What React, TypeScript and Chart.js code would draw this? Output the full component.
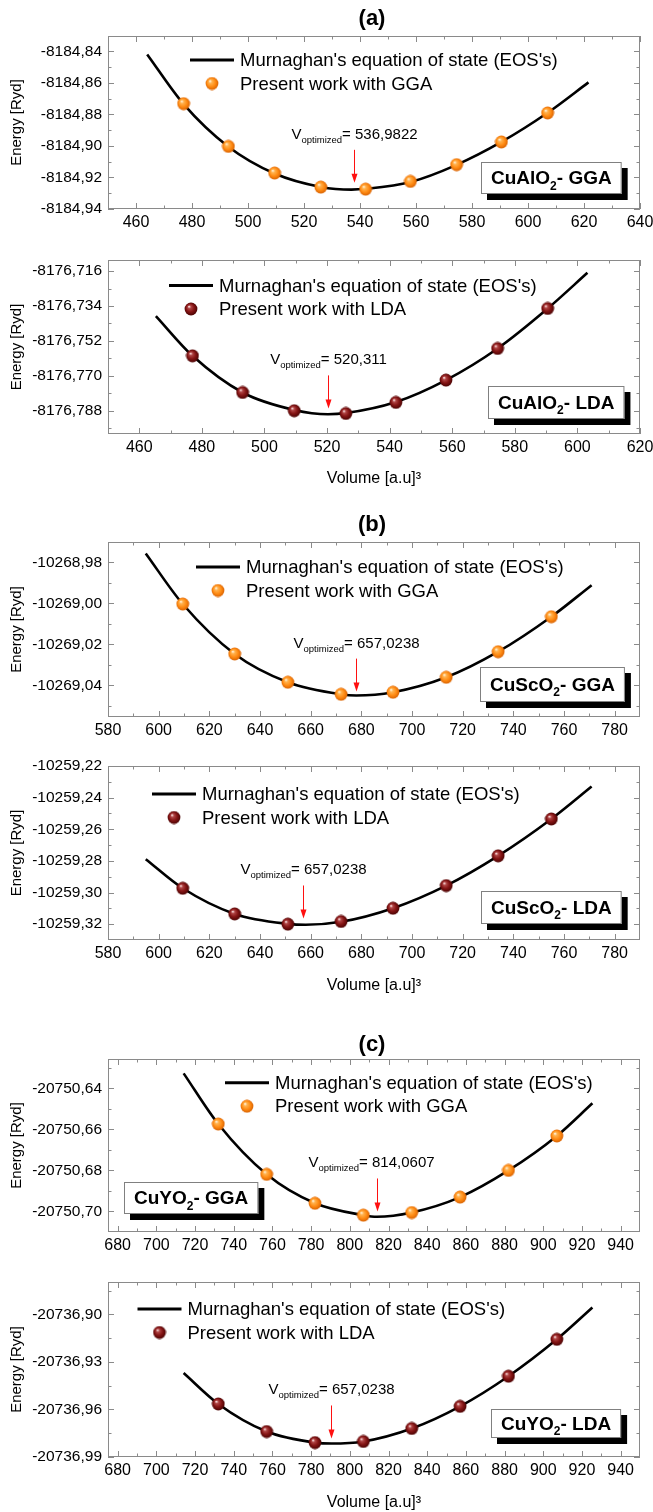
import React, { useEffect, useRef } from 'react';
import { Chart, registerables } from 'chart.js';

Chart.register(...registerables);

const FONT = '"Liberation Sans", Arial, Helvetica, sans-serif';

// ---------- data: CuAlO2 ----------
const volCuAlO2GGA = [477, 493, 509.5, 526, 542, 558, 574.5, 590.5, 607];
const eCuAlO2GGA = [-8184.8732, -8184.9003, -8184.9172, -8184.9261, -8184.9274, -8184.9225, -8184.9119, -8184.8975, -8184.8791];
const fitVolCuAlO2GGA = [464, 477, 493, 509.5, 526, 537, 542, 558, 574.5, 590.5, 607, 621.6];
const fitECuAlO2GGA = [-8184.842, -8184.8735, -8184.9005, -8184.9175, -8184.926, -8184.9277, -8184.9272, -8184.9229, -8184.912, -8184.8975, -8184.879, -8184.8597];

const volCuAlO2LDA = [477, 493, 509.5, 526, 542, 558, 574.5, 590.5];
const eCuAlO2LDA = [-8176.7597, -8176.7786, -8176.788, -8176.7894, -8176.7837, -8176.7722, -8176.7559, -8176.7353];
const fitVolCuAlO2LDA = [465.3, 477, 493, 509.5, 520.3, 526, 542, 558, 574.5, 590.5, 603.2];
const fitECuAlO2LDA = [-8176.7392, -8176.7597, -8176.7786, -8176.7876, -8176.7898, -8176.7892, -8176.7835, -8176.7722, -8176.7559, -8176.7353, -8176.7169];

// ---------- data: CuScO2 ----------
const volCuScO2 = [609.5, 630, 651, 672, 692.5, 713.5, 734, 755];
const eCuScO2GGA = [-10269.0003, -10269.0247, -10269.0385, -10269.0444, -10269.0434, -10269.0361, -10269.0236, -10269.0065];
const fitVolCuScO2GGA = [594.9, 609.5, 630, 651, 672, 678, 692.5, 713.5, 734, 755, 770.9];
const fitECuScO2GGA = [-10268.9756, -10269.0003, -10269.0247, -10269.0385, -10269.0444, -10269.045, -10269.0434, -10269.0361, -10269.0236, -10269.0065, -10268.9911];

const eCuScO2LDA = [-10259.2973, -10259.3135, -10259.32, -10259.3183, -10259.3099, -10259.2956, -10259.2768, -10259.2535];
const fitVolCuScO2LDA = [594.9, 609.5, 630, 651, 658, 672, 692.5, 713.5, 734, 755, 770.9];
const fitECuScO2LDA = [-10259.2789, -10259.2973, -10259.3135, -10259.3198, -10259.3204, -10259.3185, -10259.3099, -10259.2956, -10259.2768, -10259.2535, -10259.233];

// ---------- data: CuYO2 ----------
const volCuYO2 = [732, 757, 782, 807, 832, 857, 882, 907];
const eCuYO2GGA = [-20750.6574, -20750.6819, -20750.696, -20750.7018, -20750.7005, -20750.693, -20750.68, -20750.6632];
const fitVolCuYO2GGA = [714.1, 732, 757, 782, 807, 814, 832, 857, 882, 907, 925.4];
const fitECuYO2GGA = [-20750.6327, -20750.6574, -20750.6819, -20750.696, -20750.7018, -20750.7026, -20750.7005, -20750.693, -20750.68, -20750.6632, -20750.6473];

const eCuYO2LDA = [-20736.9565, -20736.9739, -20736.9809, -20736.9802, -20736.972, -20736.958, -20736.939, -20736.9157];
const fitVolCuYO2LDA = [714.1, 732, 757, 782, 790.5, 807, 832, 857, 882, 907, 925.4];
const fitECuYO2LDA = [-20736.937, -20736.9565, -20736.9739, -20736.9809, -20736.9815, -20736.9802, -20736.972, -20736.958, -20736.939, -20736.9157, -20736.8956];

// ---------- tick values ----------
const xTicksCuAlO2GGA = [460, 480, 500, 520, 540, 560, 580, 600, 620, 640];
const xTicksCuAlO2LDA = [460, 480, 500, 520, 540, 560, 580, 600, 620];
const xTicksCuScO2 = [580, 600, 620, 640, 660, 680, 700, 720, 740, 760, 780];
const xTicksCuYO2 = [680, 700, 720, 740, 760, 780, 800, 820, 840, 860, 880, 900, 920, 940];
const yTicksCuAlO2GGA = [-8184.94, -8184.92, -8184.9, -8184.88, -8184.86, -8184.84];
const yTicksCuAlO2LDA = [-8176.788, -8176.77, -8176.752, -8176.734, -8176.716];
const yTicksCuScO2GGA = [-10269.04, -10269.02, -10269.0, -10268.98];
const yTicksCuScO2LDA = [-10259.32, -10259.3, -10259.28, -10259.26, -10259.24, -10259.22];
const yTicksCuYO2GGA = [-20750.7, -20750.68, -20750.66, -20750.64];
const yTicksCuYO2LDA = [-20736.99, -20736.96, -20736.93, -20736.9];

// ---------- annotations ----------
const vOptLabels = ['= 536,9822', '= 520,311', '= 657,0238', '= 657,0238', '= 814,0607', '= 657,0238'];
const arrowX = [538, 520.4, 677.7, 657.1, 813.8, 790.5];
const arrowTipE = [-8184.9234, -8176.7868, -10269.0431, -10259.3164, -20750.7, -20736.9783];

const LEGEND_LINE = "Murnaghan's equation of state (EOS's)";

type PanelCfg = {
  top: number; h: number; areaTop: number; xAxisH: number;
  title?: string; titleY?: number;
  xTitle?: boolean; xTitlePad?: number;
  vol: number[]; e: number[]; fitVol: number[]; fitE: number[];
  xMin: number; xMax: number; yMin: number; yMax: number;
  xTicks: number[]; yTicks: number[]; yDec: number;
  kind: 'GGA' | 'LDA';
  legend: { x: number; y: number };
  idx: number; textDx: number;
  box: { x: number; y: number; h: number; a: string; sub: string; b: string };
};

const panels: PanelCfg[] = [
  {
    top: 0, h: 240, areaTop: 36, xAxisH: 31, title: '(a)', titleY: 19,
    vol: volCuAlO2GGA, e: eCuAlO2GGA, fitVol: fitVolCuAlO2GGA, fitE: fitECuAlO2GGA,
    xMin: 450, xMax: 640, yMin: -8184.94, yMax: -8184.8303,
    xTicks: xTicksCuAlO2GGA, yTicks: yTicksCuAlO2GGA, yDec: 2, kind: 'GGA',
    legend: { x: 82, y: 24 }, idx: 0, textDx: 0,
    box: { x: 373, y: 126, h: 32, a: 'CuAlO', sub: '2', b: '- GGA' },
  },
  {
    top: 240, h: 260, areaTop: 20, xAxisH: 66, xTitle: true, xTitlePad: 12,
    vol: volCuAlO2LDA, e: eCuAlO2LDA, fitVol: fitVolCuAlO2LDA, fitE: fitECuAlO2LDA,
    xMin: 450, xMax: 620, yMin: -8176.8, yMax: -8176.7103,
    xTicks: xTicksCuAlO2LDA, yTicks: yTicksCuAlO2LDA, yDec: 3, kind: 'LDA',
    legend: { x: 61, y: 25.5 }, idx: 1, textDx: 0,
    box: { x: 380, y: 126, h: 33, a: 'CuAlO', sub: '2', b: '- LDA' },
  },
  {
    top: 500, h: 250, areaTop: 42, xAxisH: 33, title: '(b)', titleY: 25,
    vol: volCuScO2, e: eCuScO2GGA, fitVol: fitVolCuScO2GGA, fitE: fitECuScO2GGA,
    xMin: 580, xMax: 790, yMin: -10269.0555, yMax: -10268.97,
    xTicks: xTicksCuScO2, yTicks: yTicksCuScO2GGA, yDec: 2, kind: 'GGA',
    legend: { x: 88, y: 25 }, idx: 2, textDx: 0,
    box: { x: 372, y: 125, h: 35, a: 'CuScO', sub: '2', b: '- GGA' },
  },
  {
    top: 750, h: 260, areaTop: 16, xAxisH: 70, xTitle: true, xTitlePad: 15,
    vol: volCuScO2, e: eCuScO2LDA, fitVol: fitVolCuScO2LDA, fitE: fitECuScO2LDA,
    xMin: 580, xMax: 790, yMin: -10259.33, yMax: -10259.22,
    xTicks: xTicksCuScO2, yTicks: yTicksCuScO2LDA, yDec: 2, kind: 'LDA',
    legend: { x: 44, y: 28 }, idx: 3, textDx: 0,
    box: { x: 373, y: 125, h: 33, a: 'CuScO', sub: '2', b: '- LDA' },
  },
  {
    top: 1010, h: 255, areaTop: 49, xAxisH: 33, title: '(c)', titleY: 35,
    vol: volCuYO2, e: eCuYO2GGA, fitVol: fitVolCuYO2GGA, fitE: fitECuYO2GGA,
    xMin: 675, xMax: 950, yMin: -20750.71, yMax: -20750.6257,
    xTicks: xTicksCuYO2, yTicks: yTicksCuYO2GGA, yDec: 2, kind: 'GGA',
    legend: { x: 117, y: 23.7 }, idx: 4, textDx: -6,
    box: { x: 16, y: 123, h: 32, a: 'CuYO', sub: '2', b: '- GGA' },
  },
  {
    top: 1265, h: 247, areaTop: 17, xAxisH: 55, xTitle: true, xTitlePad: 0,
    vol: volCuYO2, e: eCuYO2LDA, fitVol: fitVolCuYO2LDA, fitE: fitECuYO2LDA,
    xMin: 675, xMax: 950, yMin: -20736.99, yMax: -20736.8795,
    xTicks: xTicksCuYO2, yTicks: yTicksCuYO2LDA, yDec: 2, kind: 'LDA',
    legend: { x: 29.5, y: 27 }, idx: 5, textDx: 0,
    box: { x: 383, y: 127, h: 29, a: 'CuYO', sub: '2', b: '- LDA' },
  },
];

function makeSphere(kind: 'GGA' | 'LDA'): HTMLCanvasElement {
  const c = document.createElement('canvas');
  c.width = 14; c.height = 14;
  const g = c.getContext('2d')!;
  const grad = g.createRadialGradient(5, 4.5, 0.3, 7, 7, 7);
  if (kind === 'GGA') {
    grad.addColorStop(0, '#fff3dc');
    grad.addColorStop(0.22, '#ffb24e');
    grad.addColorStop(0.6, '#ff8a12');
    grad.addColorStop(1, '#d25c00');
  } else {
    grad.addColorStop(0, '#ffe6e6');
    grad.addColorStop(0.2, '#b04646');
    grad.addColorStop(0.55, '#861515');
    grad.addColorStop(1, '#420000');
  }
  g.fillStyle = grad;
  g.beginPath();
  g.arc(7, 7, 6.4, 0, Math.PI * 2);
  g.fill();
  return c;
}

function Panel({ cfg }: { cfg: PanelCfg }) {
  const ref = useRef<HTMLCanvasElement | null>(null);
  useEffect(() => {
    const canvas = ref.current!;
    const sphere = makeSphere(cfg.kind);
    const GRAY = '#8a8a8a';

    const deco = {
      id: 'deco',
      beforeDatasetsDraw(chart: any) {
        const { ctx, chartArea: a, scales } = chart;
        const x = scales.x, y = scales.y;
        ctx.save();
        ctx.strokeStyle = GRAY;
        ctx.lineWidth = 1;
        ctx.strokeRect(a.left + 0.5, a.top + 0.5, a.right - a.left - 1, a.bottom - a.top - 1);
        const drawX = (v: number, len: number) => {
          const px = Math.round(x.getPixelForValue(v)) + 0.5;
          ctx.beginPath();
          ctx.moveTo(px, a.bottom); ctx.lineTo(px, a.bottom - len);
          ctx.moveTo(px, a.top); ctx.lineTo(px, a.top + len);
          ctx.stroke();
        };
        const drawY = (v: number, len: number) => {
          const py = Math.round(y.getPixelForValue(v)) + 0.5;
          ctx.beginPath();
          ctx.moveTo(a.left, py); ctx.lineTo(a.left + len, py);
          ctx.moveTo(a.right, py); ctx.lineTo(a.right - len, py);
          ctx.stroke();
        };
        const xt: number[] = x.ticks.map((t: any) => t.value);
        const yt: number[] = y.ticks.map((t: any) => t.value);
        const xs = xt[1] - xt[0], ys = yt[1] - yt[0];
        xt.forEach((v) => drawX(v, 6));
        yt.forEach((v) => drawY(v, 6));
        const eps = 1e-9;
        for (let v = xt[0] - xs / 2; v < x.max + eps; v += xs) if (v > x.min + eps && v < x.max - eps) drawX(v, 3.5);
        for (let v = yt[0] - ys / 2; v < y.max + 1e-7; v += ys) if (v > y.min + 1e-7 && v < y.max - 1e-7) drawY(v, 3.5);
        ctx.restore();
      },
      afterDatasetsDraw(chart: any) {
        const { ctx, chartArea: a, scales } = chart;
        const x = scales.x, y = scales.y;
        ctx.save();
        // panel title
        if (cfg.title) {
          ctx.font = `bold 22px ${FONT}`;
          ctx.fillStyle = '#000';
          ctx.textAlign = 'center';
          ctx.textBaseline = 'middle';
          ctx.fillText(cfg.title, 372, cfg.titleY);
        }
        // legend
        const lx = a.left + cfg.legend.x, ly = a.top + cfg.legend.y;
        ctx.strokeStyle = '#000';
        ctx.lineWidth = 3;
        ctx.beginPath();
        ctx.moveTo(lx, ly); ctx.lineTo(lx + 44, ly);
        ctx.stroke();
        ctx.drawImage(sphere, lx + 22 - 7, ly + 23.5 - 7);
        ctx.font = `18.5px ${FONT}`;
        ctx.fillStyle = '#000';
        ctx.textAlign = 'left';
        ctx.textBaseline = 'middle';
        ctx.fillText(LEGEND_LINE, lx + 50, ly + 1);
        ctx.fillText('Present work with ' + cfg.kind, lx + 50, ly + 24.5);

        // arrow + V optimized
        const ax = Math.round(x.getPixelForValue(arrowX[cfg.idx])) + 0.5;
        const tip = y.getPixelForValue(arrowTipE[cfg.idx]);
        const atop = tip - 33;
        ctx.strokeStyle = '#ff1010';
        ctx.fillStyle = '#ff1010';
        ctx.lineWidth = 1;
        ctx.beginPath();
        ctx.moveTo(ax, atop); ctx.lineTo(ax, tip - 6);
        ctx.stroke();
        ctx.beginPath();
        ctx.moveTo(ax, tip); ctx.lineTo(ax - 3, tip - 9); ctx.lineTo(ax + 3, tip - 9); ctx.closePath();
        ctx.fill();

        const f1 = `15px ${FONT}`, f2 = `9.5px ${FONT}`;
        const label = vOptLabels[cfg.idx];
        ctx.font = f1;
        const wV = ctx.measureText('V').width;
        const wL = ctx.measureText(label).width;
        ctx.font = f2;
        const wS = ctx.measureText('optimized').width;
        const x0 = ax + cfg.textDx - (wV + wS + wL) / 2;
        const base = atop - 11;
        ctx.fillStyle = '#000';
        ctx.textAlign = 'left';
        ctx.textBaseline = 'alphabetic';
        ctx.font = f1; ctx.fillText('V', x0, base);
        ctx.font = f2; ctx.fillText('optimized', x0 + wV, base + 4);
        ctx.font = f1; ctx.fillText(label, x0 + wV + wS, base);

        // label box
        const b = cfg.box;
        const fb = `bold 19px ${FONT}`, fs = `bold 12px ${FONT}`;
        ctx.font = fb;
        const w1 = ctx.measureText(b.a).width;
        const w3 = ctx.measureText(b.b).width;
        ctx.font = fs;
        const w2 = ctx.measureText(b.sub).width;
        const bw = w1 + w2 + w3 + 20;
        const bx = a.left + b.x, by = a.top + b.y;
        ctx.fillStyle = '#000';
        ctx.fillRect(bx + 6, by + 6, bw, b.h);
        ctx.fillStyle = '#fff';
        ctx.fillRect(bx, by, bw, b.h);
        ctx.strokeStyle = '#808080';
        ctx.lineWidth = 1;
        ctx.strokeRect(bx + 0.5, by + 0.5, bw - 1, b.h - 1);
        const tb = by + b.h / 2 + 6;
        ctx.fillStyle = '#000';
        ctx.font = fb; ctx.fillText(b.a, bx + 10, tb);
        ctx.font = fs; ctx.fillText(b.sub, bx + 10 + w1, tb + 5.5);
        ctx.font = fb; ctx.fillText(b.b, bx + 10 + w1 + w2, tb);
        ctx.restore();
      },
    };

    const chart = new Chart(canvas, {
      type: 'line',
      data: {
        datasets: [
          {
            data: cfg.vol.map((v, i) => ({ x: v, y: cfg.e[i] })),
            showLine: false,
            pointStyle: sphere as any,
            pointRadius: 6,
            pointHoverRadius: 6,
            order: 1,
          },
          {
            data: cfg.fitVol.map((v, i) => ({ x: v, y: cfg.fitE[i] })),
            borderColor: '#000',
            borderWidth: 2.6,
            pointRadius: 0,
            cubicInterpolationMode: 'monotone',
            fill: false,
            order: 2,
          },
        ],
      },
      options: {
        animation: false,
        responsive: false,
        maintainAspectRatio: false,
        events: [],
        layout: { padding: { top: cfg.areaTop, right: 13, bottom: 0, left: 0 } },
        plugins: { legend: { display: false }, tooltip: { enabled: false }, title: { display: false } },
        scales: {
          x: {
            type: 'linear',
            min: cfg.xMin,
            max: cfg.xMax,
            grid: { display: false, drawTicks: false },
            border: { display: false },
            afterBuildTicks: (s: any) => { s.ticks = cfg.xTicks.map((v) => ({ value: v })); },
            afterFit: (s: any) => { s.height = cfg.xAxisH; s.paddingLeft = 0; s.paddingRight = 0; },
            ticks: {
              autoSkip: false, maxRotation: 0, minRotation: 0, padding: 4, color: '#000',
              font: { family: FONT, size: 16 },
              callback: (v: any) => String(v),
            },
            title: {
              display: !!cfg.xTitle,
              text: 'Volume [a.u]³',
              color: '#000',
              font: { family: FONT, size: 16 },
              padding: { top: 0, bottom: cfg.xTitlePad || 0 },
            },
          },
          y: {
            type: 'linear',
            min: cfg.yMin,
            max: cfg.yMax,
            grid: { display: false, drawTicks: false },
            border: { display: false },
            afterBuildTicks: (s: any) => { s.ticks = cfg.yTicks.map((v) => ({ value: v })); },
            afterFit: (s: any) => { s.width = 108; s.paddingTop = 0; s.paddingBottom = 0; },
            ticks: {
              autoSkip: false, padding: 6, color: '#000',
              font: { family: FONT, size: 15.5 },
              callback: (v: any) => Number(v).toFixed(cfg.yDec).replace('.', ','),
            },
            title: {
              display: true,
              text: 'Energy [Ryd]',
              color: '#000',
              font: { family: FONT, size: 15 },
              padding: { top: 8, bottom: 0 },
            },
          },
        },
      },
      plugins: [deco],
    } as any);
    return () => chart.destroy();
  }, [cfg]);
  return (
    <div style={{ position: 'absolute', left: 0, top: cfg.top, width: 653, height: cfg.h }}>
      <canvas ref={ref} width={653} height={cfg.h} style={{ display: 'block', width: 653, height: cfg.h }} />
    </div>
  );
}

export default function App() {
  return (
    <div style={{ position: 'absolute', left: 0, top: 0, width: 653, height: 1512, background: '#fff', overflow: 'hidden' }}>
      {panels.map((p, i) => (
        <Panel key={i} cfg={p} />
      ))}
    </div>
  );
}
